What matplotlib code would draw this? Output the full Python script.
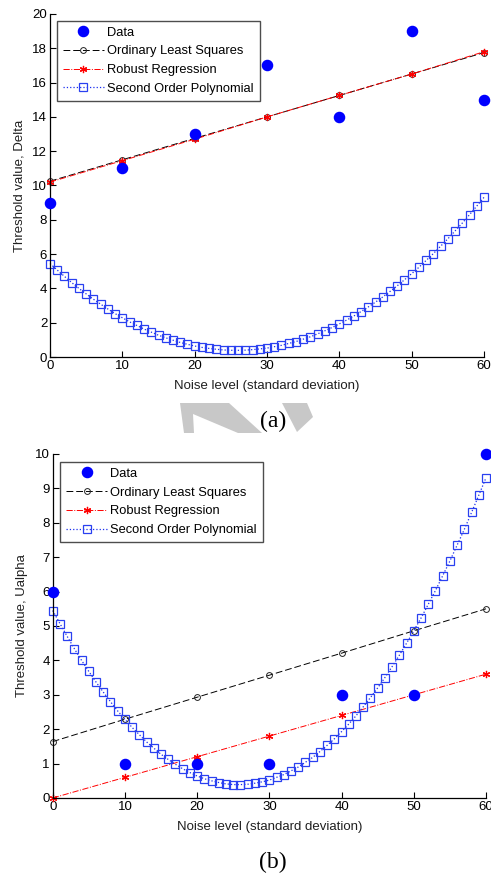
import numpy as np
import matplotlib
matplotlib.use('Agg')
from matplotlib import pyplot as plt
from matplotlib.patches import Polygon

plt.rcParams['font.family'] = ['Liberation Sans', 'DejaVu Sans']

# noise levels of the measurements and of the fitted lines
noise = [0, 10, 20, 30, 40, 50, 60]
noise_fine = list(range(61))

# (a) threshold Delta
delta_data = [9, 11, 13, 17, 14, 19, 15]
delta_ols = [10.25, 11.5, 12.75, 14.0, 15.25, 16.5, 17.75]
delta_robust = [10.2, 11.45, 12.7, 14.0, 15.25, 16.5, 17.8]

# (b) threshold Ualpha
ualpha_data = [6, 1, 1, 1, 3, 3, 10]
ualpha_ols = [1.64, 2.29, 2.93, 3.57, 4.21, 4.86, 5.50]
ualpha_robust = [0.0, 0.6, 1.2, 1.8, 2.4, 3.0, 3.6]

poly2 = [5.45, 5.07, 4.70, 4.34, 4.00, 3.68, 3.37, 3.08, 2.80, 2.53,
         2.29, 2.05, 1.84, 1.63, 1.45, 1.27, 1.12, 0.98, 0.85, 0.74,
         0.64, 0.56, 0.50, 0.45, 0.41, 0.39, 0.39, 0.40, 0.43, 0.47,
         0.52, 0.60, 0.68, 0.79, 0.90, 1.04, 1.18, 1.35, 1.53, 1.72,
         1.93, 2.15, 2.39, 2.65, 2.92, 3.20, 3.50, 3.82, 4.15, 4.50,
         4.86, 5.23, 5.63, 6.03, 6.46, 6.89, 7.35, 7.81, 8.30, 8.80,
         9.31]

W, H = 491, 873
fig = plt.figure(figsize=(W / 100, H / 100), dpi=100)


def px(x, y):
    return (x / W, 1 - y / H)


def panel(rect, data, ols, robust, ylim, yticks, ylabel, leg_anchor):
    ax = fig.add_axes(rect)
    ax.plot(noise, data, 'o', color='#0000ff', ms=7.3, mec='#0000ff',
            clip_on=False, zorder=5, label='Data')
    ax.plot(noise, ols, '--', color='black', lw=0.7, marker='o', ms=4.2,
            mfc='none', mec='#222222', mew=0.7, clip_on=False,
            dashes=(7, 3), label='Ordinary Least Squares')
    ax.plot(noise, robust, '-.', color='red', lw=0.7, marker=(6, 2, 0),
            ms=5.2, mec='red', mew=0.9, clip_on=False,
            label='Robust Regression')
    ax.plot(noise_fine, poly2, ':', color='#1a2ef0', lw=0.9, marker='s',
            ms=5.5, mfc='none', mec='#2a40f0', mew=0.9, clip_on=False,
            label='Second Order Polynomial')
    ax.set_xlim(0, 60)
    ax.set_ylim(*ylim)
    ax.set_xticks(noise)
    ax.set_yticks(yticks)
    for s in ['top', 'right']:
        ax.spines[s].set_visible(False)
    for s in ['left', 'bottom']:
        ax.spines[s].set_linewidth(0.9)
    ax.tick_params(direction='in', length=4, width=0.8, labelsize=9.5,
                   pad=2, colors='black')
    ax.set_xlabel('Noise level (standard deviation)', fontsize=9.5,
                  labelpad=6, color='#202020')
    ax.set_ylabel(ylabel, fontsize=9.5, labelpad=5, color='#202020')
    leg = ax.legend(loc='upper left', bbox_to_anchor=leg_anchor,
                    borderaxespad=0, fontsize=9.3, frameon=True,
                    fancybox=False, numpoints=1, handlelength=3.2,
                    handletextpad=0.25, labelspacing=0.52, borderpad=0.45)
    leg.get_frame().set_edgecolor('#202020')
    leg.get_frame().set_linewidth(1.0)
    return ax


panel([50 / W, 1 - 357 / H, 434 / W, 343 / H], delta_data, delta_ols,
      delta_robust, (0, 20), range(0, 21, 2), 'Threshold value, Delta',
      (0.016, 0.98))
panel([52.7 / W, 1 - 798 / H, 433.3 / W, 344 / H], ualpha_data, ualpha_ols,
      ualpha_robust, (0, 10), range(0, 11), 'Threshold value, Ualpha',
      (0.017, 0.977))

# grey watermark behind caption (a)
wm1 = [px(180, 403), px(229, 403), px(262, 433), px(238, 433),
       px(193, 414), px(194, 433), px(184, 433)]
wm2 = [px(282, 403), px(307, 403), px(313, 417), px(297, 432)]
for pts in (wm1, wm2):
    fig.patches.append(Polygon(pts, closed=True, transform=fig.transFigure,
                               facecolor='#c8c8c8', edgecolor='none',
                               zorder=0))

fig.text(273 / W, 1 - 421 / H, '(a)', ha='center', va='center',
         fontsize=17, family='Liberation Serif')
fig.text(273 / W, 1 - 862 / H, '(b)', ha='center', va='center',
         fontsize=17, family='Liberation Serif')

fig.savefig('out.png', dpi=100)
